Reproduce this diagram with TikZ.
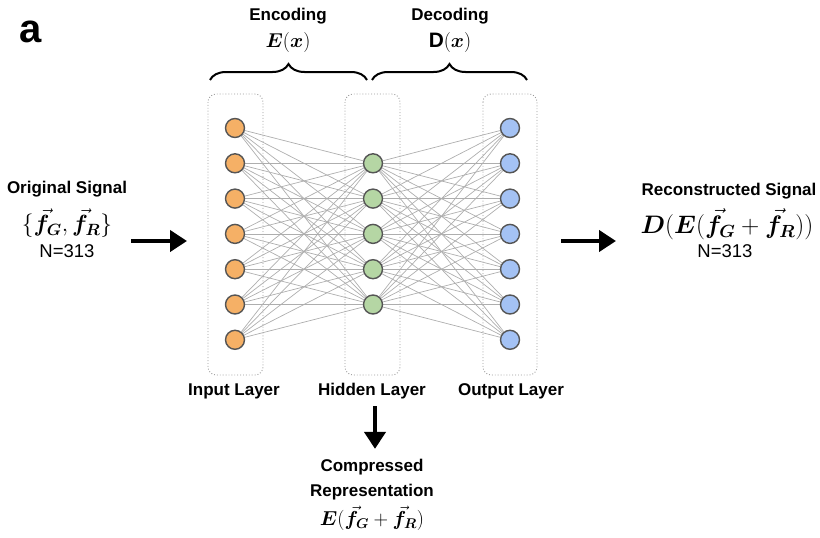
\documentclass[tikz,border=0pt]{standalone}
\usepackage{fontspec}
\setmainfont{Liberation Sans}
\usepackage{graphicx}
\usepackage{bm}
\usetikzlibrary{arrows.meta,decorations.pathreplacing,backgrounds}
\definecolor{inorange}{HTML}{F5B066}
\definecolor{hidgreen}{HTML}{B5D6A4}
\definecolor{outblue}{HTML}{A4C2F4}
\definecolor{nodeborder}{HTML}{555555}
\definecolor{edgegray}{HTML}{AEAEAE}
\tikzset{
  neuron/.style={circle,draw=nodeborder,line width=1.4pt,minimum size=19pt,inner sep=0pt},
  layerbox/.style={draw=gray!80,dotted,line width=0.9pt,rounded corners=8pt},
  conn/.style={draw=edgegray,line width=0.7pt},
  lbl/.style={font=\bfseries\fontsize{17}{20}\selectfont,inner sep=0pt},
  plain/.style={font=\fontsize{18.5}{21}\selectfont,inner sep=0pt},
  mathlbl/.style={inner sep=0pt},
  bigarrow/.style={line width=4pt,-{Triangle[length=17pt,width=21pt]}},
  bracestyle/.style={decorate,decoration={brace,amplitude=16pt},line width=2pt}
}
\begin{document}
\begin{tikzpicture}[x=1pt,y=-1pt]
\useasboundingbox (0,0) rectangle (820,538);
% panel letter
\node[font=\bfseries\fontsize{40}{44}\selectfont,inner sep=0pt] (panel) at (31,32) {a};
% layers
\foreach \k in {1,...,7} {
  \node[neuron,fill=inorange] (i\k) at (235,{128+35.3*(\k-1)}) {};
  \node[neuron,fill=outblue] (o\k) at (510,{128+35.3*(\k-1)}) {};
}
\foreach \k in {1,...,5} {
  \node[neuron,fill=hidgreen] (h\k) at (373,{163.3+35.3*(\k-1)}) {};
}
\begin{pgfonlayer}{background}
  \draw[layerbox] (208,94) rectangle (263,375);
  \draw[layerbox] (345,94) rectangle (400,375);
  \draw[layerbox] (483,94) rectangle (537,375);
  \foreach \a in {1,...,7} {
    \foreach \b in {1,...,5} {
      \draw[conn] (i\a) -- (h\b);
      \draw[conn] (h\b) -- (o\a);
    }
  }
\end{pgfonlayer}
% braces and headings
\draw[bracestyle] (210,80) -- (367,80);
\draw[bracestyle] (372,80) -- (527,80);
\node[lbl] (enc) at (288,16) {Encoding};
\node[mathlbl] (encf) at (288,42) {\scalebox{1.16}{\fontsize{18}{20}\selectfont$\bm{E}(\bm{x})$}};
\node[lbl] (dec) at (450,16) {Decoding};
\node[mathlbl] (decf) at (450,42) {\scalebox{1.16}{\fontsize{18}{20}\selectfont$\mathbf{D}(\bm{x})$}};
% layer labels
\node[lbl] (inlabel) at (234,391) {Input Layer};
\node[lbl] (hidlabel) at (372,391) {Hidden Layer};
\node[lbl] (outlabel) at (511,391) {Output Layer};
% left signal
\node[lbl] (orig) at (67,189) {Original Signal};
\node[mathlbl] (origf) at (67,223) {\scalebox{1.13}{\fontsize{21}{24}\selectfont$\{\vec{\bm f}_{\bm G},\vec{\bm f}_{\bm R}\}$}};
\node[plain] (origN) at (67,251) {N=313};
\coordinate (la) at (131,241);
\coordinate (lb) at (187,241);
\draw[bigarrow] (la) -- (lb);
% right signal
\node[lbl] (recon) at (729,191) {Reconstructed Signal};
\node[mathlbl] (reconf) at (727,224) {\scalebox{1.22}{\fontsize{22}{24}\selectfont$\bm{D}(\bm{E}(\vec{\bm f}_{\bm G}+\vec{\bm f}_{\bm R}))$}};
\node[plain] (reconN) at (725,251) {N=313};
\coordinate (ra) at (561,241);
\coordinate (rb) at (616,241);
\draw[bigarrow] (ra) -- (rb);
% compressed representation
\node[lbl] (comp) at (372,467) {Compressed};
\node[lbl] (repr) at (372,492) {Representation};
\node[mathlbl] (compf) at (372,518) {\scalebox{1.17}{\fontsize{18}{20}\selectfont$\bm{E}(\vec{\bm f}_{\bm G}+\vec{\bm f}_{\bm R})$}};
\draw[bigarrow] ([xshift=3pt,yshift=-7pt]hidlabel.south) -- ([xshift=3pt,yshift=10pt]comp.north);
\end{tikzpicture}
\end{document}
